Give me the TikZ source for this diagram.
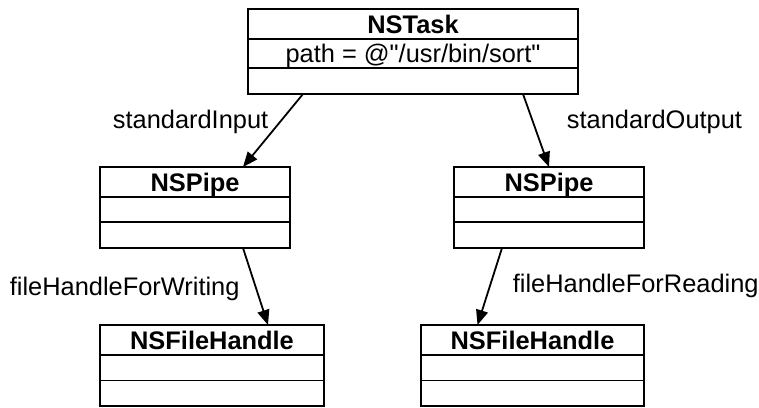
\documentclass[tikz,border=0pt]{standalone}
\usepackage{fontspec}
\setmainfont{Liberation Sans}[Ligatures=TeXOff]
\usetikzlibrary{positioning,arrows.meta}
\tikzset{every picture/.style={line width=1.8pt}}
\tikzset{
  umltitle/.style={rectangle, draw=black, outer sep=0pt, inner sep=0pt,
                   minimum height=30pt, text height=18pt, text depth=0pt,
                   font=\fontsize{25.4}{28}\selectfont\bfseries},
  umlrow/.style  ={rectangle, draw=black, outer sep=0pt, inner sep=0pt,
                   minimum height=26pt, text height=18pt, text depth=0pt,
                   font=\fontsize{25.4}{28}\selectfont},
  umledge/.style ={-{Triangle[length=15pt,width=12pt]}, black},
  umllbl/.style  ={anchor=base west, inner sep=0pt, font=\fontsize{25.4}{28}\selectfont},
}

\begin{document}
\begin{tikzpicture}[x=1pt, y=-1pt]
        \useasboundingbox (0,0) rectangle (759,407);
        % classe NSTask
        \node[umltitle, minimum width=330pt] (task) at (413,24) {NSTask};
        \node[umlrow, minimum width=330pt, minimum height=29pt, below=0pt of task] (taskpath) {path = @"/usr/bin/sort"};
        \node[umlrow, minimum width=330pt, below=0pt of taskpath] (taskops) {};
        % pipe di ingresso
        \node[umltitle, minimum width=190pt] (pipein) at (195,182) {NSPipe};
        \node[umlrow, minimum width=190pt, minimum height=25pt, below=0pt of pipein] (pipeinattr) {};
        \node[umlrow, minimum width=190pt, below=0pt of pipeinattr] (pipeinops) {};
        % pipe di uscita
        \node[umltitle, minimum width=190pt] (pipeout) at (549,182) {NSPipe};
        \node[umlrow, minimum width=190pt, minimum height=25pt, below=0pt of pipeout] (pipeoutattr) {};
        \node[umlrow, minimum width=190pt, below=0pt of pipeoutattr] (pipeoutops) {};
        % file handle
        \node[umltitle, minimum width=224pt] (fhwrite) at (212,340) {NSFileHandle};
        \node[umlrow, minimum width=224pt, minimum height=25.5pt, below=0pt of fhwrite] (fhwriteattr) {};
        \node[umlrow, minimum width=224pt, minimum height=25.5pt, below=0pt of fhwriteattr] (fhwriteops) {};
        \node[umltitle, minimum width=223pt] (fhread) at (532.5,340) {NSFileHandle};
        \node[umlrow, minimum width=223pt, minimum height=25.5pt, below=0pt of fhread] (fhreadattr) {};
        \node[umlrow, minimum width=223pt, minimum height=25.5pt, below=0pt of fhreadattr] (fhreadops) {};
        % associazioni
        \draw[umledge] ([xshift=-110pt]taskops.south) -- ([xshift=48pt]pipein.north);
        \draw[umledge] ([xshift=110pt]taskops.south) -- (pipeout.north);
        \draw[umledge] ([xshift=48pt]pipeinops.south) -- ([xshift=56pt]fhwrite.north);
        \draw[umledge] ([xshift=-47pt]pipeoutops.south) -- ([xshift=-55pt]fhread.north);
        \node[umllbl] (lblin) at (112,128) {standardInput};
        \node[umllbl] (lblout) at (566,128) {standardOutput};
        \node[umllbl] (lblwrite) at (9,295) {fileHandleForWriting};
        \node[umllbl] (lblread) at (512,292) {fileHandleForReading};
    \end{tikzpicture}
\end{document}
